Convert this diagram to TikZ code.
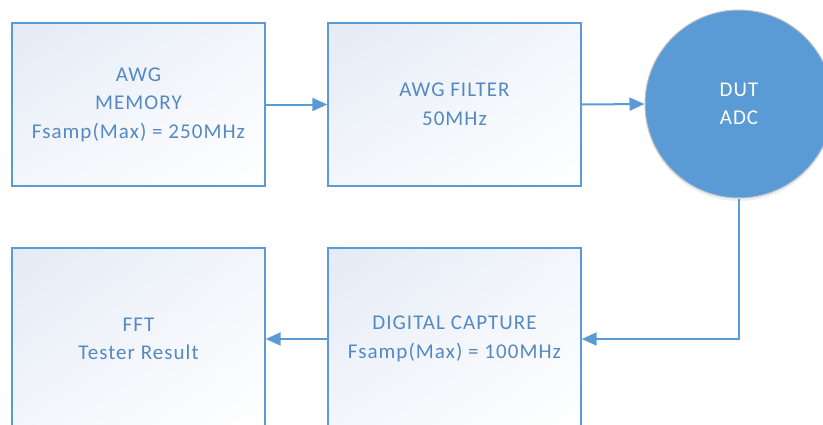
\documentclass[tikz,border=0pt]{standalone}
\usepackage{fontspec}
\setmainfont{Carlito}[LetterSpace=5]
\usetikzlibrary{arrows.meta,shadings,shadows}
\definecolor{accblue}{HTML}{5B9BD5}
\definecolor{acctext}{HTML}{5489C2}
\definecolor{boxtop}{HTML}{E4EBF6}
\definecolor{boxmid}{HTML}{F3F6FB}
\tikzset{
  block/.style={draw=accblue,line width=1.4pt,minimum width=253pt,minimum height=163pt,inner sep=2pt,
    align=center,text=acctext,upper left=boxtop,upper right=boxmid,lower left=boxmid,lower right=white,
    font=\fontsize{21}{28.5}\selectfont},
  dutnode/.style={circle,draw=black!25,line width=1pt,fill=accblue,minimum size=188pt,inner sep=0pt,
    align=center,text=white,font=\fontsize{21}{28.5}\selectfont,
    drop shadow={shadow xshift=0pt,shadow yshift=-3pt,fill=accblue!30,opacity=0.5}},
  link/.style={draw=accblue,line width=2pt,-{Triangle[length=15pt,width=13pt]}}
}

\begin{document}
\begin{tikzpicture}[x=1pt,y=-1pt]
  \useasboundingbox (0,0) rectangle (823,424);
  \clip (0,0) rectangle (823,424);
  % top row
  \node[block] (mem) at (138.5,104.5) {AWG\\MEMORY\\Fsamp(Max) = 250MHz};
  \node[block] (filt) at (454.5,104.5) {AWG FILTER\\50MHz};
  \node[dutnode] (dut) at (739,104) {DUT\\ADC};
  % bottom row
  \node[block,minimum height=182pt] (fft) at (138.5,339) {FFT\\Tester Result};
  \node[block,minimum height=182pt] (cap) at (454.5,339) {DIGITAL CAPTURE\\Fsamp(Max) = 100MHz};
  % links
  \draw[link] (mem) -- (filt);
  \draw[link] (filt.east) -- (dut.west);
  \draw[link] (dut.south) |- (cap.east);
  \draw[link] (cap) -- (fft);
\end{tikzpicture}
\end{document}
